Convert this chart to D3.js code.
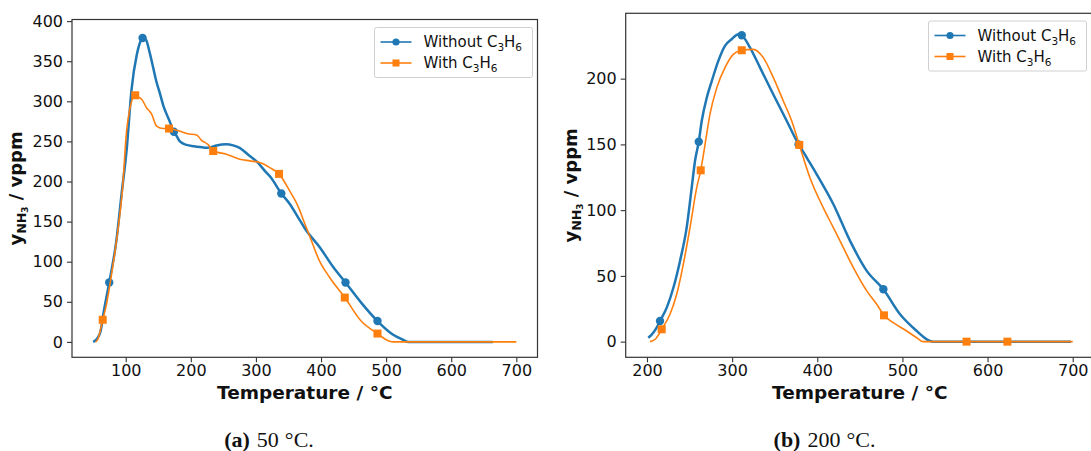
<!DOCTYPE html>
<html>
<head>
<meta charset="utf-8">
<script src="https://cdn.jsdelivr.net/npm/d3@7"></script>
<style>
  body { margin: 0; background: #fff; }
  svg text { font-family: "DejaVu Sans", sans-serif; fill: #111; }
  .caption { font-family: "Liberation Serif", serif; font-size: 22px; }
</style>
</head>
<body>
<div id="chart"></div>
<script>
// (a) 50 °C : [temperature, ppm]
var leftWithout = [[50,0],[56,4],[61.6,14],[65.5,34],[74.7,74],[85.6,126],[93.6,184],[101.5,240],[109,315],
  [117,358],[121,371],[126,379],[131,377],[137,360],[142.2,342],[147,325],[152.5,310],[157.6,295],[162.8,284],
  [168,274],[172.9,263],[178,257],[183.2,250],[193.5,245.6],[205,244],[213.9,243],[225,242],[232,243],
  [239.5,245],[254.8,246.5],[265,245],[275,242],[290,232],[301,225],[314,213],[323,205],[339,185],[352,172],
  [365,155],[376,140.5],[398,118],[419,93],[437.6,74],[461.6,49],[486.7,26],[509.6,9.6],[525,3],[533.6,0],[664,0]];
var leftWith = [[53.6,0],[57,3],[64.7,27.6],[70,45],[77,78],[88.5,142.5],[95,190],[101,260],[107.5,295],
  [114.6,307.5],[120,305],[124.4,302.6],[132,292],[139.8,284],[147.4,269],[157.6,266],[166.5,266],[180,263.5],
  [195,259.5],[208.8,258],[217,251],[226.7,246],[234.4,238],[254.8,234],[275.3,227.8],[290.6,225.7],[306,223.6],
  [321.3,217.3],[335.5,209.5],[352,188],[365.6,167.5],[372.4,153],[381.6,134],[397.6,101],[413.6,80],
  [436.5,55.3],[461.6,26],[486.7,10.4],[504,1.2],[512,0],[700,0]];
var leftWithoutMarks = [[74.7,74],[125.9,379],[174,262],[339,185],[437.6,74],[486.7,26]];
var leftWithMarks = [[64.7,27.6],[114.6,307.5],[166.5,266],[234.4,238],[335.5,209.5],[436.5,55.3],[486.7,10.4]];

// (b) 200 °C
var rightWithout = [[201.5,3],[205,5],[211.4,10.6],[215.3,15.7],[223.2,25.9],[231,41],[238.8,61.4],[246.6,86.7],
  [252.5,117],[256.4,137.4],[260.8,152],[264.3,167.8],[270.2,185.5],[276,198],[283.8,213.5],[291.6,224.9],
  [299.5,230],[307.3,233.8],[311.3,233],[321,223.6],[332.8,208.4],[348.4,188],[364.2,167.8],[375.9,152.6],
  [387.6,140],[399.3,127.3],[418.9,104.5],[438.5,76.6],[458.1,53.8],[477.6,39.8],[497.2,20.8],[516.8,8.1],
  [528.6,1.8],[536.4,0],[698,0]];
var rightWith = [[203.5,0],[210,2],[217.3,9.4],[227,20.8],[234.9,36],[242.7,58.9],[250.5,86.7],[258.4,117.1],
  [263.1,130.3],[268.2,150],[274,173],[281.9,193],[291.6,208.4],[301.4,218.5],[311.3,221.6],[324.9,222.3],
  [336.6,216],[348.4,200.8],[360.1,183],[370,167.8],[378.9,149.6],[391.4,124.7],[407,101.9],[418.9,86.7],
  [430.6,71.5],[442.4,56.3],[458.1,38.6],[469.8,28.4],[478.4,20],[489.3,14.4],[505,8.1],[516.8,3],[524.6,0],[700,0]];
var rightWithoutMarks = [[215.3,15.7],[260.8,152],[311.3,233],[378,150],[477.6,39.8]];
var rightWithMarks = [[217.3,9.4],[263.1,130.3],[311.3,221.6],[378.9,149.6],[478.4,20],[575.3,0],[623.3,0]];

// ticks
var leftXTicks = [100, 200, 300, 400, 500, 600, 700];
var leftYTicks = [0, 50, 100, 150, 200, 250, 300, 350, 400];
var rightXTicks = [200, 300, 400, 500, 600, 700];
var rightYTicks = [0, 50, 100, 150, 200];

var blue = "#1f77b4", orange = "#ff7f0e";

var svg = d3.select("#chart")
  .append("svg")
  .attr("width", 1091)
  .attr("height", 451);

//subscript C3H6 text
function addC3H6(text) {
  text.append("tspan").text("C");
  text.append("tspan").attr("font-size", "70%").attr("dy", 4).text("3");
  text.append("tspan").attr("dy", -4).text("H");
  text.append("tspan").attr("font-size", "70%").attr("dy", 4).text("6");
}

function drawPanel(p) {
  var x = d3.scaleLinear().domain(p.xDomain).range([p.left, p.right]);
  var y = d3.scaleLinear().domain(p.yDomain).range([p.bottom, p.top]);
  var g = svg.append("g");

  var line = d3.line()
    .x(function(d) { return x(d[0]); })
    .y(function(d) { return y(d[1]); })
    .curve(d3.curveMonotoneX);

  // blue first, orange over it
  g.append("path").datum(p.without)
    .attr("fill", "none").attr("stroke", blue).attr("stroke-width", 2.5)
    .attr("stroke-linejoin", "round").attr("d", line);
  g.selectAll(".dot").data(p.withoutMarks).enter().append("circle")
    .attr("cx", function(d) { return x(d[0]); })
    .attr("cy", function(d) { return y(d[1]); })
    .attr("r", 4.2).attr("fill", blue);
  g.append("path").datum(p.with)
    .attr("fill", "none").attr("stroke", orange).attr("stroke-width", 1.6)
    .attr("stroke-linejoin", "round").attr("d", line);
  g.selectAll(".sq").data(p.withMarks).enter().append("rect")
    .attr("x", function(d) { return x(d[0]) - 4; })
    .attr("y", function(d) { return y(d[1]) - 4; })
    .attr("width", 8).attr("height", 8).attr("fill", orange);

  // axes
  var xAxis = g.append("g")
    .attr("transform", "translate(0," + p.bottom + ")")
    .call(d3.axisBottom(x).tickValues(p.xTicks).tickSize(5).tickPadding(2));
  var yAxis = g.append("g")
    .attr("transform", "translate(" + p.left + ",0)")
    .call(d3.axisLeft(y).tickValues(p.yTicks).tickSize(5).tickPadding(4));
  [xAxis, yAxis].forEach(function(a) {
    a.select(".domain").remove();
    a.selectAll("line").attr("stroke", "#333").attr("stroke-width", 1.1);
    a.selectAll("text").attr("font-size", 16).attr("fill", "#111")
      .style("font-family", "'DejaVu Sans', sans-serif");
  });

  // frame
  g.append("rect")
    .attr("x", p.left).attr("y", p.top)
    .attr("width", p.right - p.left).attr("height", p.bottom - p.top)
    .attr("fill", "none").attr("stroke", "#333").attr("stroke-width", 1.2);

  // axis labels
  g.append("text")
    .attr("x", (p.left + p.right) / 2).attr("y", p.bottom + 42)
    .attr("text-anchor", "middle").attr("font-size", 18.5).attr("font-weight", "bold")
    .text("Temperature / °C");

  var yl = g.append("text")
    .attr("transform", "translate(" + p.yLabelX + "," + ((p.top + p.bottom) / 2) + ") rotate(-90)")
    .attr("text-anchor", "middle").attr("font-size", 18).attr("font-weight", "bold")
    .attr("dy", "0.35em");
  yl.append("tspan").text("y");
  yl.append("tspan").attr("font-size", "70%").attr("dy", 4).text("NH");
  yl.append("tspan").attr("font-size", "49%").attr("dy", 2).text("3");
  yl.append("tspan").attr("dy", -6).text(" / vppm");

  // legend
  var lg = g.append("g").attr("transform", "translate(" + p.legend[0] + "," + p.legend[1] + ")");
  lg.append("rect")
    .attr("width", 158).attr("height", 50).attr("rx", 2)
    .attr("fill", "#fff").attr("stroke", "#d0d0d0").attr("stroke-width", 1);
  var rows = [{c: blue, label: "Without ", shape: "circle"}, {c: orange, label: "With ", shape: "square"}];
  rows.forEach(function(r, i) {
    var cy = 14.5 + i * 21;
    lg.append("line").attr("x1", 6).attr("x2", 37).attr("y1", cy).attr("y2", cy)
      .attr("stroke", r.c).attr("stroke-width", 1.6);
    if (r.shape === "circle") {
      lg.append("circle").attr("cx", 21.5).attr("cy", cy).attr("r", 3.6).attr("fill", r.c);
    } else {
      lg.append("rect").attr("x", 18).attr("y", cy - 3.5).attr("width", 7).attr("height", 7).attr("fill", r.c);
    }
    var t = lg.append("text").attr("x", 49).attr("y", cy + 5).attr("font-size", 15);
    t.append("tspan").text(r.label);
    addC3H6(t);
  });
}

drawPanel({
  without: leftWithout, with: leftWith,
  withoutMarks: leftWithoutMarks, withMarks: leftWithMarks,
  xDomain: [17.5, 732.5], yDomain: [-19.2, 402],
  left: 72, right: 537.5, top: 19.5, bottom: 357.3,
  xTicks: leftXTicks, yTicks: leftYTicks,
  yLabelX: 15.6, legend: [374.5, 27.5]
});

drawPanel({
  without: rightWithout, with: rightWith,
  withoutMarks: rightWithoutMarks, withMarks: rightWithMarks,
  xDomain: [175, 725], yDomain: [-11.9, 249.7],
  left: 625.7, right: 1094, top: 13.3, bottom: 357.3,
  xTicks: rightXTicks, yTicks: rightYTicks,
  yLabelX: 571, legend: [928.5, 21]
});

//captions under each panel
function caption(cx, tag, value) {
  var t = svg.append("text").attr("class", "caption")
    .attr("x", cx).attr("y", 447).attr("text-anchor", "middle");
  t.append("tspan").attr("font-weight", "bold").text("(" + tag + ")");
  t.append("tspan").attr("dx", 7).text(value);
  t.append("tspan").attr("dx", 6).text("°C.");
}
caption(269, "a", "50");
caption(824.5, "b", "200");
</script>
</body>
</html>
